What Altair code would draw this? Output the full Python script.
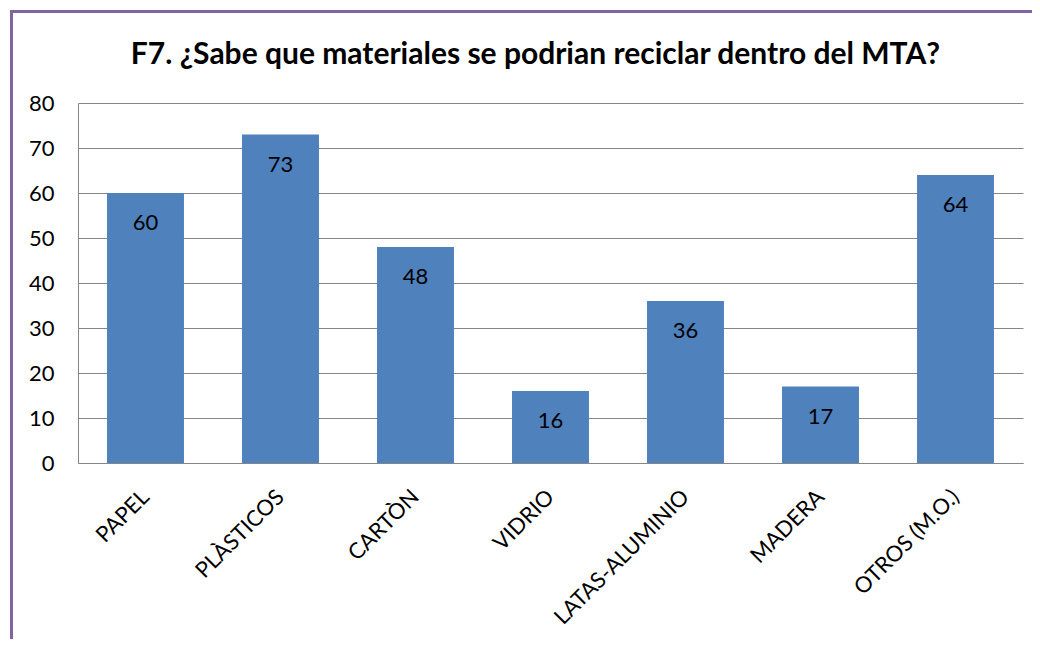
import altair as alt
import pandas as pd

categories = ["PAPEL", "PLÀSTICOS", "CARTÒN", "VIDRIO", "LATAS-ALUMINIO", "MADERA", "OTROS (M.O.)"]
values = [60, 73, 48, 16, 36, 17, 64]
y_ticks = [0, 10, 20, 30, 40, 50, 60, 70, 80]
title_text = "F7. ¿Sabe que materiales se podrian reciclar dentro del MTA?"

df = pd.DataFrame({"material": categories, "valor": values})

FONT = "Lato"

x = alt.X("material:N", sort=categories, title=None,
          scale=alt.Scale(paddingInner=0.43, paddingOuter=0.215),
          axis=alt.Axis(labelAngle=-45, labelAlign="right", labelBaseline="middle",
                        labelPadding=30, ticks=False, domainColor="#868686", labelLimit=0,
                        labelFontSize=22, labelColor="#000000", labelFont=FONT))
y = alt.Y("valor:Q", title=None,
          scale=alt.Scale(domain=[0, 80], nice=False),
          axis=alt.Axis(values=y_ticks, ticks=False, labelPadding=24, domainColor="#868686",
                        gridColor="#868686", labelFontSize=22, labelColor="#000000", labelFont=FONT))

base = alt.Chart(df)
bars = base.mark_bar(color="#4F81BD").encode(x=x, y=y)
labels = base.mark_text(fontSize=22, baseline="middle", dy=30, color="#000000", font=FONT).encode(
    x=alt.X("material:N", sort=categories), y="valor:Q", text="valor:Q")

frame_left = alt.Chart(df).mark_rule(color="#8064A2", strokeWidth=3).encode(
    x=alt.value(-66.5), y=alt.value(-92.5), y2=alt.value(580))
frame_top = alt.Chart(df).mark_rule(color="#8064A2", strokeWidth=3).encode(
    x=alt.value(-68), x2=alt.value(970), y=alt.value(-91.5))

chart = alt.layer(bars, labels, frame_left, frame_top).properties(
    width=945, height=360,
    padding={"left": 70, "top": 95, "right": 9, "bottom": 176},
    autosize=alt.AutoSizeParams(type="none"),
    title=alt.TitleParams(title_text, fontSize=30, font=FONT, fontWeight="bold",
                          color="#000000", anchor="middle", dx=-15, offset=-61),
).configure_view(stroke=None).configure_axisX(grid=False)

chart.save("out.html", embed_options={"renderer": "svg", "actions": False})
